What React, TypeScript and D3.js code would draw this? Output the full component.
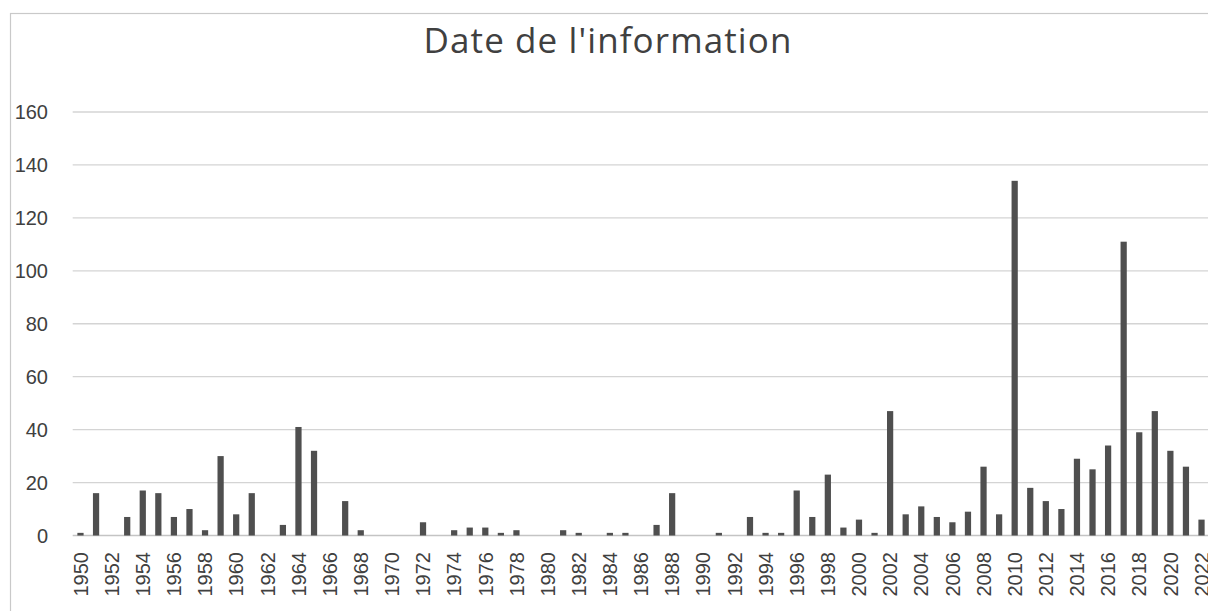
import React, { useEffect, useRef } from 'react';
import * as d3 from 'd3';

// années 1950 -> 2022
const years: number[] = d3.range(1950, 2023);

// nombre d'informations par année
const counts: number[] = [
  1, 16, 0, 7, 17, 16, 7, 10, 2, 30,
  8, 16, 0, 4, 41, 32, 0, 13, 2, 0,
  0, 0, 5, 0, 2, 3, 3, 1, 2, 0,
  0, 2, 1, 0, 1, 1, 0, 4, 16, 0,
  0, 1, 0, 7, 1, 1, 17, 7, 23, 3,
  6, 1, 47, 8, 11, 7, 5, 9, 26, 8,
  134, 18, 13, 10, 29, 25, 34, 111, 39, 47,
  32, 26, 6,
];

const yTicks: number[] = [0, 20, 40, 60, 80, 100, 120, 140, 160];
const title = "Date de l'information";

const W = 1208;
const H = 611;

const App = () => {
  const ref = useRef<SVGSVGElement>(null);

  useEffect(() => {
    const svg = d3.select(ref.current);
    svg.selectAll('*').remove();

    const left = 72.7;
    const right = 1209.3;
    const top = 112;
    const bottom = 535.5;

    const x = d3.scaleBand<number>()
      .domain(years)
      .range([left, right])
      .paddingInner(0.6)
      .paddingOuter(0.3);

    const y = d3.scaleLinear()
      .domain([0, 160])
      .range([bottom, top]);

    // cadre
    svg.append('rect')
      .attr('x', 10.5)
      .attr('y', 13.5)
      .attr('width', W + 20)
      .attr('height', H + 20)
      .attr('fill', '#fff')
      .attr('stroke', '#c9c9c9')
      .attr('stroke-width', 1.2);

    // titre
    svg.append('text')
      .attr('x', 608)
      .attr('y', 53)
      .attr('text-anchor', 'middle')
      .attr('font-family', '"Open Sans", Lato, sans-serif')
      .attr('font-size', 35)
      .attr('letter-spacing', 1.1)
      .attr('fill', '#404040')
      .text(title);

    // grille
    svg.selectAll('grid')
      .data(yTicks)
      .enter()
      .append('line')
      .attr('x1', left)
      .attr('x2', right)
      .attr('y1', d => y(d))
      .attr('y2', d => y(d))
      .attr('stroke', d => d === 0 ? '#c4c4c4' : '#d4d4d4')
      .attr('stroke-width', 1.3);

    // étiquettes y
    svg.selectAll('ylabels')
      .data(yTicks)
      .enter()
      .append('text')
      .attr('x', 48)
      .attr('y', d => y(d))
      .attr('dy', '0.36em')
      .attr('text-anchor', 'end')
      .attr('font-family', '"Liberation Sans", Arial, sans-serif')
      .attr('font-size', 20)
      .attr('fill', '#404040')
      .text(d => d);

    // barres
    svg.selectAll('bars')
      .data(years)
      .enter()
      .append('rect')
      .attr('x', d => x(d)!)
      .attr('width', x.bandwidth())
      .attr('y', (d, i) => y(counts[i]))
      .attr('height', (d, i) => bottom - y(counts[i]))
      .attr('fill', '#4f4f4f');

    // étiquettes x (une année sur deux)
    svg.selectAll('xlabels')
      .data(years.filter(d => d % 2 === 0))
      .enter()
      .append('text')
      .attr('transform', d => `translate(${x(d)! + x.bandwidth() / 2},552) rotate(-90)`)
      .attr('dy', '0.36em')
      .attr('text-anchor', 'end')
      .attr('font-family', '"Liberation Sans", Arial, sans-serif')
      .attr('font-size', 20)
      .attr('fill', '#404040')
      .text(d => d);
  }, []);

  return (
    <svg
      ref={ref}
      width={W}
      height={H}
      style={{ position: 'absolute', left: 0, top: 0, background: '#fff' }}
    />
  );
};

export default App;
